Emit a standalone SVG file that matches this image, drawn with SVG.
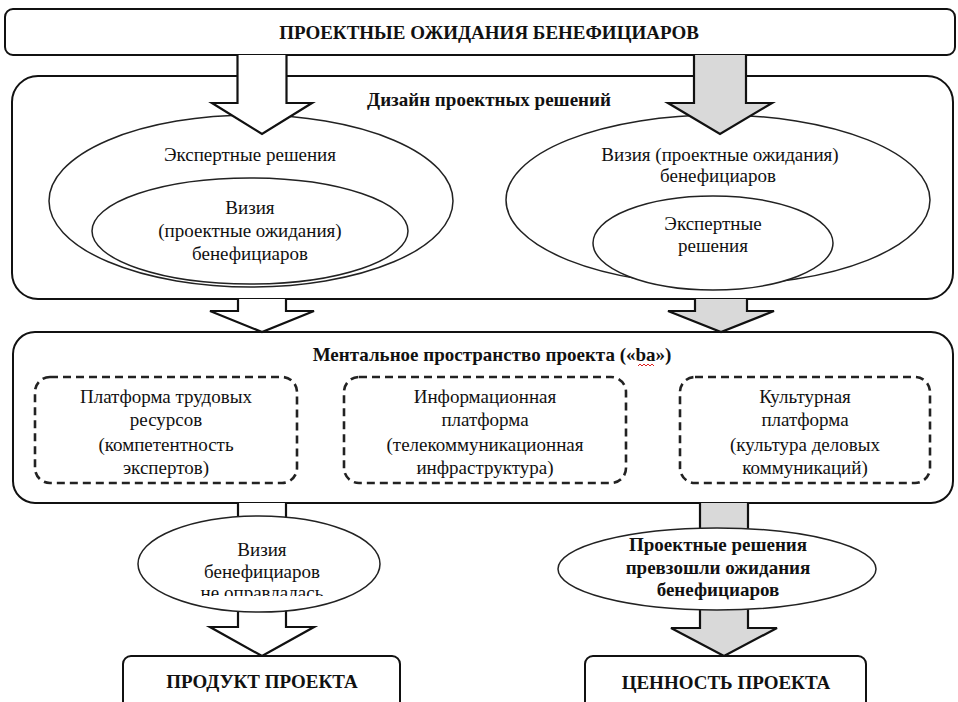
<svg xmlns="http://www.w3.org/2000/svg" width="958" height="702" viewBox="0 0 958 702">
<style>
.box{fill:#fff;stroke:#111;stroke-width:2}
.dash{fill:none;stroke:#222;stroke-width:2.6;stroke-dasharray:8 5}
.ell{fill:#fff;stroke:#222;stroke-width:1.5}
.arw{fill:#fff;stroke:#111;stroke-width:2.2;stroke-linejoin:miter}
.g{fill:#d9d9d9}
text{font-family:"Liberation Serif","Times New Roman",serif;font-size:19px;fill:#111;text-anchor:middle}
.b{font-weight:bold}
</style>
<defs>
<clipPath id="cut"><rect x="0" y="0" width="958" height="596"/></clipPath>
</defs>
<rect width="958" height="702" fill="#fff"/>

<g id="top">
<rect class="box" x="5" y="9" width="950" height="46" rx="8"/>
<text class="b" x="489" y="39" font-size="21">ПРОЕКТНЫЕ ОЖИДАНИЯ БЕНЕФИЦИАРОВ</text>
</g>

<g id="design">
<rect class="box" x="12" y="76" width="941" height="223" rx="26"/>
<text class="b" x="489" y="106" font-size="20">Дизайн проектных решений</text>
</g>

<g id="left-ellipses">
<ellipse class="ell" cx="251" cy="201" rx="202" ry="86"/>
<text x="250" y="161">Экспертные решения</text>
<ellipse class="ell" cx="250" cy="231" rx="158" ry="53"/>
<text x="250" y="214">Визия</text>
<text x="250" y="237">(проектные ожидания)</text>
<text x="250" y="260">бенефициаров</text>
</g>

<g id="right-ellipses">
<ellipse class="ell" cx="718" cy="200" rx="212" ry="85"/>
<text x="720" y="161">Визия (проектные ожидания)</text>
<text x="718" y="182">бенефициаров</text>
<ellipse class="ell" cx="713" cy="243" rx="120" ry="47"/>
<text x="713" y="230">Экспертные</text>
<text x="713" y="252">решения</text>
</g>

<g id="mental">
<rect class="box" x="13" y="332" width="940" height="171" rx="22"/>
<text class="b" x="492" y="361" font-size="20">Ментальное пространство проекта («ba»)</text>
<path d="M638,366 l2,-2 l2,2 l2,-2 l2,2 l2,-2 l2,2 l2,-2 l2,2" fill="none" stroke="#d22" stroke-width="1"/>
</g>

<g id="platform1">
<rect class="dash" x="35" y="377" width="262" height="106" rx="15"/>
<text x="166" y="403">Платформа трудовых</text>
<text x="166" y="426">ресурсов</text>
<text x="166" y="451">(компетентность</text>
<text x="166" y="474">экспертов)</text>
</g>

<g id="platform2">
<rect class="dash" x="344" y="377" width="282" height="106" rx="15"/>
<text x="485" y="403">Информационная</text>
<text x="485" y="426">платформа</text>
<text x="485" y="451">(телекоммуникационная</text>
<text x="485" y="474">инфраструктура)</text>
</g>

<g id="platform3">
<rect class="dash" x="680" y="377" width="250" height="106" rx="15"/>
<text x="805" y="403">Культурная</text>
<text x="805" y="426">платформа</text>
<text x="805" y="451">(культура деловых</text>
<text x="805" y="474">коммуникаций)</text>
</g>

<g id="connectors">
<path class="arw" d="M237.5,55 V103 H212 L262,134 L312,103 H286.5 V55"/>
<path class="arw g" d="M694,55 V103 H668 L720,134 L772,103 H746 V55"/>
<path class="arw" d="M238,299 V311 H210 L262,332 L314,311 H286 V299"/>
<path class="arw g" d="M695,299 V311 H668 L721,332 L774,311 H747 V299"/>
<path class="arw" d="M238,503 V627 H210 L262,656 L314,627 H286 V503"/>
<path class="arw g" d="M700,503 V628 H671 L724,656 L777,628 H748 V503"/>
</g>

<g id="fail">
<ellipse class="ell" cx="259" cy="564" rx="121" ry="48"/>
<text x="262" y="556">Визия</text>
<text x="262" y="578">бенефициаров</text>
<text x="262" y="599" clip-path="url(#cut)">не оправлалась</text>
</g>

<g id="exceed">
<ellipse class="ell" cx="717" cy="569" rx="159" ry="41"/>
<text class="b" x="718" y="551" font-size="18">Проектные решения</text>
<text class="b" x="718" y="574" font-size="18">превзошли ожидания</text>
<text class="b" x="718" y="596" font-size="18">бенефициаров</text>
</g>

<g id="product">
<rect class="box" x="123" y="656" width="277" height="60" rx="8"/>
<text class="b" x="262" y="688" font-size="20">ПРОДУКТ ПРОЕКТА</text>
</g>

<g id="value">
<rect class="box" x="585" y="656" width="281" height="60" rx="8"/>
<text class="b" x="726" y="689" font-size="20">ЦЕННОСТЬ ПРОЕКТА</text>
</g>
</svg>
